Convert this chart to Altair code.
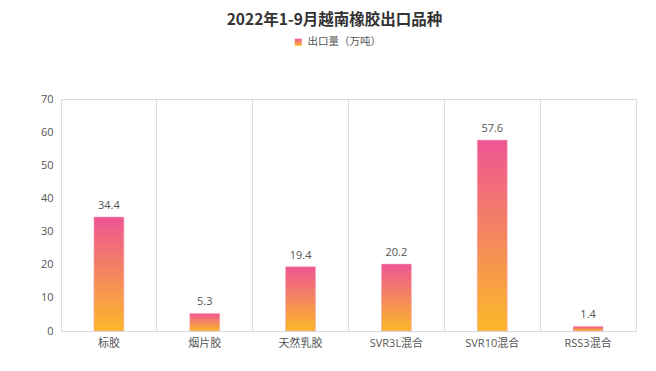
import altair as alt
import pandas as pd

categories = ["标胶", "烟片胶", "天然乳胶", "SVR3L混合", "SVR10混合", "RSS3混合"]
values = [34.4, 5.3, 19.4, 20.2, 57.6, 1.4]
series_name = "出口量（万吨）"

df = pd.DataFrame({"cat": categories, "val": values, "series": [series_name] * len(categories)})

FONT = "Open Sans, Noto Sans CJK SC, sans-serif"

grad = alt.LinearGradient(
    gradient="linear",
    stops=[alt.GradientStop(color="#ee5593", offset=0),
           alt.GradientStop(color="#fbb829", offset=1)],
    x1=0, x2=0, y1=0, y2=1,
)

x = alt.X("cat:N", sort=categories, title=None,
          scale=alt.Scale(paddingInner=0, paddingOuter=0),
          axis=alt.Axis(labelAngle=0, ticks=False, grid=True, bandPosition=0,
                        gridColor="#dcdcdc", domainColor="#d9d9d9",
                        labelColor="#555", labelFontSize=11, labelPadding=6,
                        labelFont=FONT))
y = alt.Y("val:Q", title=None,
          scale=alt.Scale(domain=[0, 70], nice=False),
          axis=alt.Axis(values=[0, 10, 20, 30, 40, 50, 60, 70], grid=False,
                        domain=False, ticks=False, labelColor="#555",
                        labelOverlap=False, labelFlush=False,
                        labelFontSize=11, labelPadding=8, labelFont=FONT))

base = alt.Chart(df).encode(x=x, y=y)

bars = base.mark_bar(fill=grad, width=30, strokeWidth=1, strokeOpacity=0.6).encode(
    stroke=alt.Stroke("series:N", title=None,
                      scale=alt.Scale(domain=[series_name], range=["#f9b3c4"]),
                      legend=alt.Legend(orient="none", legendX=232, legendY=-62,
                                        symbolType="square", symbolSize=50,
                                        symbolFillColor="#f38b83",
                                        symbolStrokeWidth=0,
                                        labelFontSize=10.5, labelColor="#555",
                                        labelFont=FONT, padding=0)),
)

labels = base.mark_text(baseline="bottom", dy=-6, fontSize=11,
                        color="#555", font=FONT).encode(
    text=alt.Text("val:Q", format=".1f"))

chart = alt.layer(bars, labels).properties(
    width=575, height=232,
    autosize=alt.AutoSizeParams(type="none"),
    padding={"left": 53, "top": 91, "right": 12, "bottom": 32},
    title=alt.Title("2022年1-9月越南橡胶出口品种", fontSize=15.5, fontWeight="bold",
                    color="#333", font="Noto Sans CJK SC", anchor="middle",
                    offset=9, dx=-14),
).configure_view(stroke="#dcdcdc")

chart.save("out.html", embed_options={"renderer": "svg", "actions": False})
